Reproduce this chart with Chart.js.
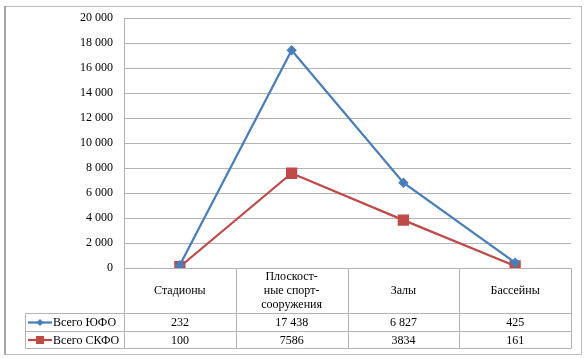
<!DOCTYPE html>
<html>
<head>
<meta charset="utf-8">
<script src="https://cdn.jsdelivr.net/npm/chart.js@4"></script>
<style>
  html, body { margin: 0; padding: 0; background: #ffffff; }
  #wrap { width: 587px; height: 358px; position: relative; }
</style>
</head>
<body>
<div id="wrap"><canvas id="c" width="587" height="358"></canvas></div>
<script>
const categories = ['Стадионы', ['Плоскост-', 'ные спорт-', 'сооружения'], 'Залы', 'Бассейны'];
const seriesNames = ['Всего ЮФО', 'Всего СКФО'];
const ufoValues = [232, 17438, 6827, 425];
const skfoValues = [100, 7586, 3834, 161];
const ufoLabels = ['232', '17 438', '6 827', '425'];
const skfoLabels = ['100', '7586', '3834', '161'];
const yTicks = [0, 2000, 4000, 6000, 8000, 10000, 12000, 14000, 16000, 18000, 20000];

const BLUE = '#4a7ebb';
const RED = '#be4b48';
const GRID = '#b3b3b3';
const FONT = "'Liberation Serif', 'Times New Roman', serif";

function fmt(v) {
  if (v === 0) return '0';
  const s = String(v);
  return s.replace(/\B(?=(\d{3})+(?!\d))/g, ' ');
}

const tablePlugin = {
  id: 'dataTable',
  beforeDraw(chart) {
    const ctx = chart.ctx;
    ctx.save();
    ctx.fillStyle = '#ffffff';
    ctx.fillRect(0, 0, chart.width, chart.height);
    ctx.strokeStyle = '#bdbdbd';
    ctx.lineWidth = 1;
    ctx.strokeRect(5.5, 6.5, 576, 348);
    ctx.strokeStyle = '#a6a6a6';
    ctx.lineWidth = 2;
    ctx.beginPath(); ctx.moveTo(5, 6); ctx.lineTo(5, 355); ctx.stroke();
    ctx.restore();
  },
  afterDraw(chart) {
    const ctx = chart.ctx;
    const ca = chart.chartArea;
    const xs = chart.scales.x;
    const n = categories.length;
    const colW = (ca.right - ca.left) / n;
    const top = Math.round(ca.bottom) + 0.5;
    const hdrB = top + 45;
    const r1B = top + 63;
    const r2B = top + 80;
    const tabL = 25.5;
    const L = Math.round(ca.left) + 0.5;
    const R = Math.round(ca.right) + 0.5;
    ctx.save();
    ctx.strokeStyle = GRID;
    ctx.lineWidth = 1;
    ctx.beginPath();
    ctx.moveTo(L, top); ctx.lineTo(R, top);
    ctx.moveTo(tabL, hdrB); ctx.lineTo(R, hdrB);
    ctx.moveTo(tabL, r1B); ctx.lineTo(R, r1B);
    ctx.moveTo(tabL, r2B); ctx.lineTo(R, r2B);
    ctx.moveTo(tabL, hdrB); ctx.lineTo(tabL, r2B);
    for (let i = 0; i <= n; i++) {
      const x = Math.round(ca.left + i * colW) + 0.5;
      ctx.moveTo(x, top); ctx.lineTo(x, r2B);
    }
    ctx.stroke();

    ctx.fillStyle = '#000000';
    ctx.font = '12px ' + FONT;
    ctx.textAlign = 'center';
    ctx.textBaseline = 'middle';
    categories.forEach((c, i) => {
      const cx = xs.getPixelForValue(i);
      const lines = Array.isArray(c) ? c : [c];
      const lh = 14;
      const mid = (top + hdrB) / 2;
      lines.forEach((t, k) => {
        ctx.fillText(t, cx, mid + (k - (lines.length - 1) / 2) * lh);
      });
    });
    const rows = [[ufoLabels, (hdrB + r1B) / 2], [skfoLabels, (r1B + r2B) / 2]];
    rows.forEach(([labels, y]) => {
      labels.forEach((t, i) => ctx.fillText(t, xs.getPixelForValue(i), y + 0.5));
    });

    // legend keys
    const keys = [[BLUE, 'rectRot', (hdrB + r1B) / 2, seriesNames[0]], [RED, 'rect', (r1B + r2B) / 2, seriesNames[1]]];
    keys.forEach(([col, style, y, name]) => {
      ctx.strokeStyle = col;
      ctx.lineWidth = 2.25;
      ctx.beginPath(); ctx.moveTo(28, y); ctx.lineTo(52, y); ctx.stroke();
      ctx.fillStyle = col;
      if (style === 'rect') {
        ctx.fillRect(36, y - 4, 8, 8);
      } else {
        ctx.beginPath();
        ctx.moveTo(40, y - 3.5); ctx.lineTo(43.5, y); ctx.lineTo(40, y + 3.5); ctx.lineTo(36.5, y); ctx.closePath();
        ctx.fill();
      }
      ctx.fillStyle = '#000000';
      ctx.textAlign = 'left';
      ctx.fillText(name, 53, y + 0.5);
    });
    ctx.restore();
  }
};

new Chart(document.getElementById('c'), {
  type: 'line',
  data: {
    labels: categories,
    datasets: [
      {
        label: seriesNames[0], data: ufoValues,
        borderColor: BLUE, backgroundColor: BLUE, borderWidth: 2.25,
        pointStyle: 'rectRot', pointRadius: 3.6, pointHoverRadius: 3.6, tension: 0
      },
      {
        label: seriesNames[1], data: skfoValues,
        borderColor: RED, backgroundColor: RED, borderWidth: 2.25,
        pointStyle: 'rect', pointRadius: 6.4, pointHoverRadius: 6.4, tension: 0
      }
    ]
  },
  options: {
    responsive: false,
    animation: false,
    devicePixelRatio: 1,
    layout: { padding: { left: 5, right: 16, top: 18, bottom: 90 } },
    plugins: { legend: { display: false }, tooltip: { enabled: false } },
    scales: {
      x: { display: false, offset: true },
      y: {
        min: 0, max: 20000,
        afterFit(scale) { scale.width = 119; },
        afterBuildTicks(scale) { scale.ticks = yTicks.map(v => ({ value: v })); },
        grid: { color: GRID, drawTicks: false, lineWidth: 1 },
        border: { display: true, color: GRID, width: 1 },
        ticks: {
          padding: 11,
          color: '#000000',
          font: { family: FONT, size: 12 },
          callback: v => fmt(v)
        }
      }
    }
  },
  plugins: [tablePlugin]
});
</script>
</body>
</html>
